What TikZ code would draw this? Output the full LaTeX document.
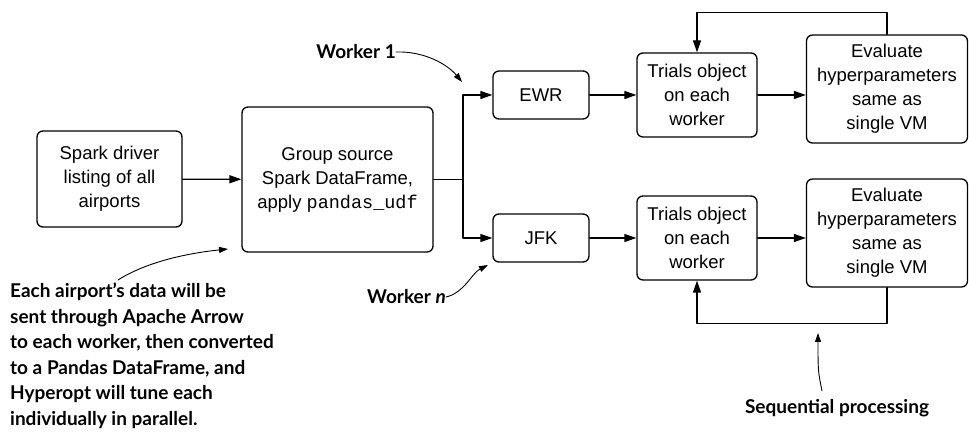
\documentclass[tikz,border=0pt]{standalone}
\usepackage{fontspec}
\setmainfont{Liberation Sans}
\setmonofont{Liberation Mono}
\newfontfamily\notefont{Lato}
\usetikzlibrary{arrows.meta}

\tikzset{
  stage/.style={draw,line width=1.3pt,rounded corners=6pt,align=center,
    inner sep=0pt,font=\fontsize{18.5}{24}\selectfont},
  flow/.style={line width=1.3pt,-{Triangle[length=12pt,width=8pt]}},
  callout/.style={line width=0.9pt,-{Triangle[length=9pt,width=6pt]}},
  note/.style={inner sep=0pt,align=left,
    font=\notefont\bfseries\fontsize{19}{25.5}\selectfont}
}

\begin{document}
\begin{tikzpicture}[x=1pt,y=1pt,line cap=round,line join=round]
  \useasboundingbox (0,0) rectangle (969,433);
  % driver and grouping step
  \node[stage,minimum width=145,minimum height=96] (drv) at (109.5,254)
    {Spark driver\\listing of all\\airports};
  \node[stage,minimum width=191,minimum height=145] (grp) at (337.5,253.5)
    {Group source\\Spark DataFrame,\\apply \texttt{pandas\_udf}};
  \draw[flow] (drv) -- (grp);
  % one row per airport
  \foreach \row/\code/\y/\ey in {top/EWR/338/344,bot/JFK/195/200} {
    \node[stage,minimum width=96,minimum height=48] (ap\row) at (541,\y) {\code};
    \node[stage,minimum width=120,minimum height=84] (tr\row) at (697,\y)
      {Trials object\\on each\\worker};
    \node[stage,minimum width=161,minimum height=108] (ev\row) at (887,\ey)
      {Evaluate\\hyperparameters\\same as\\single VM};
    \draw[flow] (ap\row) -- (tr\row);
    \draw[flow] (tr\row) -- (tr\row -| ev\row.west);
  }
  % fan-out to the workers
  \coordinate (fork) at (463,253.5);
  \draw[line width=1.3pt] (grp.east |- fork) -- (fork);
  \draw[flow] (fork) |- (aptop);
  \draw[flow] (fork) |- (apbot);
  % feedback loops
  \draw[flow] (evtop.north) -- ++(0,22) -| (trtop.north);
  \draw[flow] (evbot.south) -- ++(0,-36) -| (trbot.south);
  % callouts
  \node[note,anchor=east] (w1) at (396,381) {Worker 1};
  \coordinate (w1tip) at (462,351);
  \draw[callout] (w1.east) .. controls (425,382) and (448,368) .. (w1tip);
  \node[note,anchor=east] (wn) at (446,136) {Worker \textit{n}};
  \coordinate (wntip) at (488,168);
  \draw[callout] (wn.east) .. controls (464,140) and (472,160) .. (wntip);
  \node[note,anchor=north] (seq) at (837,34) {Sequential processing};
  \coordinate (seqtip) at (818,100);
  \draw[callout] (822,42) .. controls (818,62) .. (seqtip);
  \node[note,anchor=north west] (msg) at (10,150)
    {Each airport’s data will be\\sent through Apache Arrow\\to each worker, then converted\\to a Pandas DataFrame, and\\Hyperopt will tune each\\individually in parallel.};
  \coordinate (msgtip) at (228,184);
  \draw[callout] (118,153) .. controls (148,172) and (190,180) .. (msgtip);
\end{tikzpicture}
\end{document}
